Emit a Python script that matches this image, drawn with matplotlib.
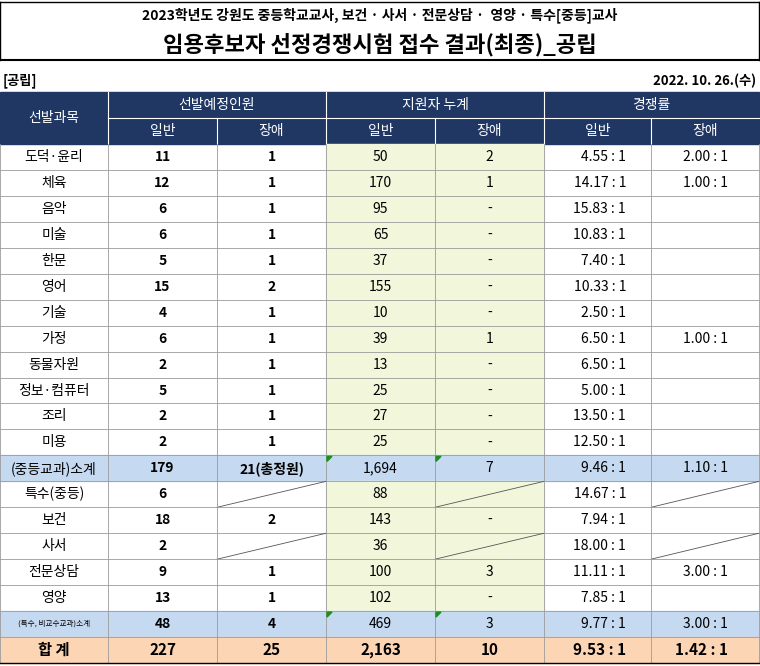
import matplotlib
matplotlib.use("Agg")
import matplotlib.pyplot as plt
from matplotlib.patches import Rectangle

plt.rcParams['font.family'] = ['Noto Sans CJK JP', 'Noto Sans CJK KR', 'Noto Sans CJK SC', 'Noto Sans CJK TC', 'DejaVu Sans']

subjects = ["도덕·윤리","체육","음악","미술","한문","영어","기술","가정","동물자원","정보·컴퓨터","조리","미용",
            "(중등교과)소계","특수(중등)","보건","사서","전문상담","영양","(특수, 비교수교과)소계","합 계"]
quota_gen = ["11","12","6","6","5","15","4","6","2","5","2","2","179","6","18","2","9","13","48","227"]
quota_dis = ["1","1","1","1","1","2","1","1","1","1","1","1","21(총정원)",None,"2",None,"1","1","4","25"]
appl_gen = ["50","170","95","65","37","155","10","39","13","25","27","25","1,694","88","143","36","100","102","469","2,163"]
appl_dis = ["2","1","-","-","-","-","-","1","-","-","-","-","7",None,"-",None,"3","-","3","10"]
ratio_gen = ["4.55 : 1","14.17 : 1","15.83 : 1","10.83 : 1","7.40 : 1","10.33 : 1","2.50 : 1","6.50 : 1","6.50 : 1",
             "5.00 : 1","13.50 : 1","12.50 : 1","9.46 : 1","14.67 : 1","7.94 : 1","18.00 : 1","11.11 : 1","7.85 : 1","9.77 : 1","9.53 : 1"]
ratio_dis = ["2.00 : 1","1.00 : 1","","","","","","1.00 : 1","","","","","1.10 : 1",None,"",None,"3.00 : 1","","3.00 : 1","1.42 : 1"]

W, H = 760, 666
fig = plt.figure(figsize=(W/100, H/100), dpi=100)
ax = fig.add_axes([0, 0, 1, 1])
ax.set_xlim(0, W); ax.set_ylim(H, 0); ax.axis('off')

xs = [0, 108, 217, 326, 435, 544, 651, 759]
top_h = 92; mid_h = 118; body = 144; rh = 25.95
navy = "#203764"; green = "#F2F7DC"; blue = "#C5D9F1"; peach = "#FCD5B4"; grid = "#9A9A9A"

ax.text(380, 15, "2023학년도 강원도 중등학교교사, 보건 · 사서 · 전문상담 ·  영양 · 특수[중등]교사",
        ha='center', va='center', fontsize=10, fontweight='bold')
ax.text(380, 45, "임용후보자 선정경쟁시험 접수 결과(최종)_공립", ha='center', va='center', fontsize=16, fontweight='bold')
ax.plot([0, 759], [2, 2], color='black', lw=1)
ax.plot([0, 759], [60, 60], color='black', lw=1.5)
ax.plot([0, 0], [2, 60], color='black', lw=1); ax.plot([759, 759], [2, 60], color='black', lw=1)
ax.text(3, 81, "[공립]", ha='left', va='center', fontsize=9.5, fontweight='bold')
ax.text(756, 81, "2022. 10. 26.(수)", ha='right', va='center', fontsize=9.5, fontweight='bold')

ax.add_patch(Rectangle((0, top_h), 759, body-top_h, color=navy, zorder=0))
ax.text(54, 118, "선발과목", color='white', ha='center', va='center', fontsize=10)
for i, t in enumerate(["선발예정인원", "지원자 누계", "경쟁률"]):
    ax.text((xs[1+2*i]+xs[3+2*i])/2, 105, t, color='white', ha='center', va='center', fontsize=10)
    ax.text((xs[1+2*i]+xs[2+2*i])/2, 131, "일반", color='white', ha='center', va='center', fontsize=10)
    ax.text((xs[2+2*i]+xs[3+2*i])/2, 131, "장애", color='white', ha='center', va='center', fontsize=10)
    ax.plot([xs[1+2*i], xs[3+2*i]], [mid_h, mid_h], color='white', lw=0.8)
    ax.plot([xs[2+2*i]]*2, [mid_h, body], color='white', lw=0.8)
    ax.plot([xs[1+2*i]]*2, [top_h, body], color='white', lw=0.8)

n = len(subjects)
for r in range(n):
    y0 = body + r*rh; yc = y0 + rh/2
    name = subjects[r]
    sub = "소계" in name; tot = name == "합 계"
    if sub or tot:
        ax.add_patch(Rectangle((0, y0), 759, rh, color=peach if tot else blue, zorder=0))
    else:
        ax.add_patch(Rectangle((xs[3], y0), xs[5]-xs[3], rh, color=green, zorder=0))
    fs = 11 if tot else 10
    ax.text(54, yc, name, ha='center', va='center', fontsize=(5.5 if "특수," in name else fs),
            fontweight='bold' if tot else 'normal')
    ax.text((xs[1]+xs[2])/2, yc, quota_gen[r], ha='center', va='center', fontsize=fs, fontweight='bold')
    for col, val, bold in [(2, quota_dis[r], True), (4, appl_dis[r], tot)]:
        if val is None:
            ax.plot([xs[col], xs[col+1]], [y0+rh, y0], color='#555555', lw=0.6)
        else:
            ax.text((xs[col]+xs[col+1])/2, yc, val, ha='center', va='center', fontsize=fs,
                    fontweight='bold' if bold else 'normal')
    ax.text((xs[3]+xs[4])/2, yc, appl_gen[r], ha='center', va='center', fontsize=fs,
            fontweight='bold' if tot else 'normal')
    ax.text(626, yc, ratio_gen[r], ha='right', va='center', fontsize=fs, fontweight='bold' if tot else 'normal')
    if ratio_dis[r] is None:
        ax.plot([xs[6], xs[7]], [y0+rh, y0], color='#555555', lw=0.6)
    else:
        ax.text(728, yc, ratio_dis[r], ha='right', va='center', fontsize=fs, fontweight='bold' if tot else 'normal')
    if sub:
        for xc in (xs[3], xs[4]):
            ax.fill([xc+1, xc+6, xc+1], [y0+1, y0+1, y0+6], color='#1E8C1E', zorder=5)
    ax.plot([0, 759], [y0+rh, y0+rh], color=grid, lw=0.6)

bottom = body + n*rh
for x in xs:
    ax.plot([x, x], [body, bottom], color=grid, lw=0.6)
ax.plot([0, 759], [bottom, bottom], color='black', lw=1)

fig.savefig("out.png", dpi=100)
